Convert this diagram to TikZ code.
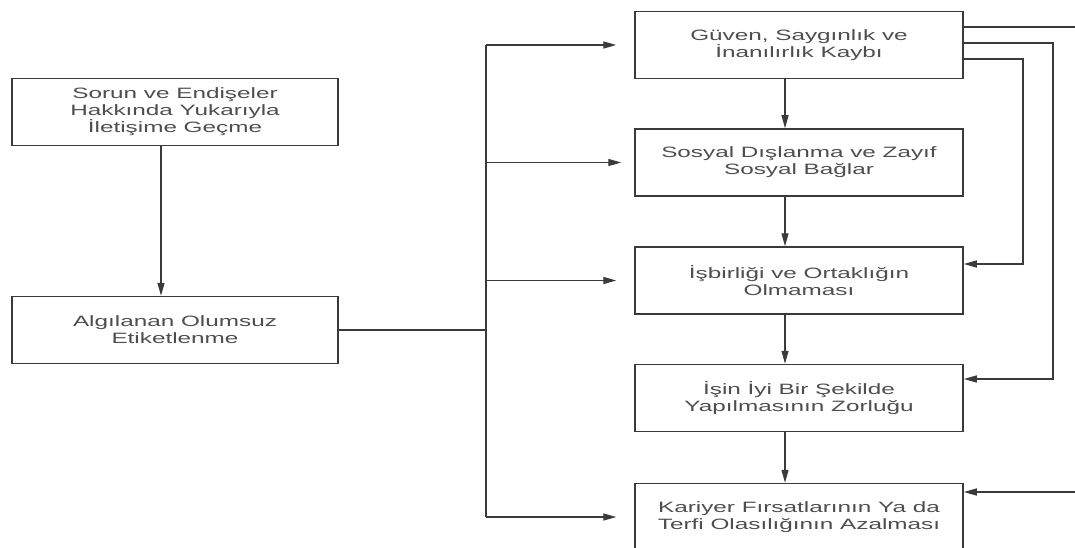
\documentclass[tikz,border=0pt]{standalone}
\usepackage{fontspec}
\setmainfont[FakeStretch=1.62]{Liberation Sans}
\usetikzlibrary{arrows.meta}
\definecolor{edge}{HTML}{3A3A3A}
\definecolor{ink}{HTML}{4E4E4E}
\begin{document}
\begin{tikzpicture}[x=1pt,y=-1pt,
  box/.style={draw=edge, line width=1.5pt, fill=white, align=center,
    text=ink, font=\fontsize{15}{17}\selectfont, inner sep=0pt},
  leftbox/.style={box, minimum width=326pt, minimum height=67pt},
  rightbox/.style={box, minimum width=328pt, minimum height=67pt},
  link/.style={draw=edge, line width=1.3pt},
  arr/.style={link, -{Triangle[length=13pt,width=7pt]}}]
\useasboundingbox (0,0) rectangle (1075,548);
\clip (0,0) rectangle (1075,548);

% left column
\node[leftbox] (a) at (175,112) {Sorun ve Endişeler\\Hakkında Yukarıyla\\İletişime Geçme};
\node[leftbox] (b) at (175,330) {Algılanan Olumsuz\\Etiketlenme};

% right column
\node[rightbox] (r1) at (799,45)    {Güven, Saygınlık ve\\İnanılırlık Kaybı};
\node[rightbox] (r2) at (799,162.5) {Sosyal Dışlanma ve Zayıf\\Sosyal Bağlar};
\node[rightbox] (r3) at (799,280.5) {İşbirliği ve Ortaklığın\\Olmaması};
\node[rightbox] (r4) at (799,398)   {İşin İyi Bir Şekilde\\Yapılmasının Zorluğu};
\node[rightbox] (r5) at (799,517)   {Kariyer Fırsatlarının Ya da\\Terfi Olasılığının Azalması};

% guide coordinates
\coordinate (ax) at (161,0);
\coordinate (tr) at (486,0);
\coordinate (dx) at (785,0);
\coordinate (o1) at (1100,0);
\coordinate (o2) at (1053,0);
\coordinate (o3) at (1023,0);

% left chain
\draw[arr] (a.south -| ax) -- (b.north -| ax);

% distribution trunk
\draw[link] (b.east) -- (b.east -| tr);
\draw[link] (tr |- r1.west) -- (tr |- r5.west);
\draw[arr, shorten >=18pt] (tr |- r1.west) -- (r1.west);
\draw[arr, shorten >=13pt] (tr |- r2.west) -- (r2.west);
\draw[arr, shorten >=18pt] (tr |- r3.west) -- (r3.west);
\draw[arr, shorten >=18pt] (tr |- r5.west) -- (r5.west);

% right column chain
\draw[arr] (r1.south -| dx) -- (r2.north -| dx);
\draw[arr] (r2.south -| dx) -- (r3.north -| dx);
\draw[arr] (r3.south -| dx) -- (r4.north -| dx);
\draw[arr] (r4.south -| dx) -- (r5.north -| dx);

% feedback loops on the right
\draw[arr] ([yshift=18pt]r1.east) -| ([yshift=25pt]o1 |- r5.east) -- ([yshift=25pt]r5.east);
\draw[arr] ([yshift=2pt]r1.east) -| ([yshift=19pt]o2 |- r4.east) -- ([yshift=19pt]r4.east);
\draw[arr] ([yshift=-14pt]r1.east) -| ([yshift=16.5pt]o3 |- r3.east) -- ([yshift=16.5pt]r3.east);
\end{tikzpicture}
\end{document}
